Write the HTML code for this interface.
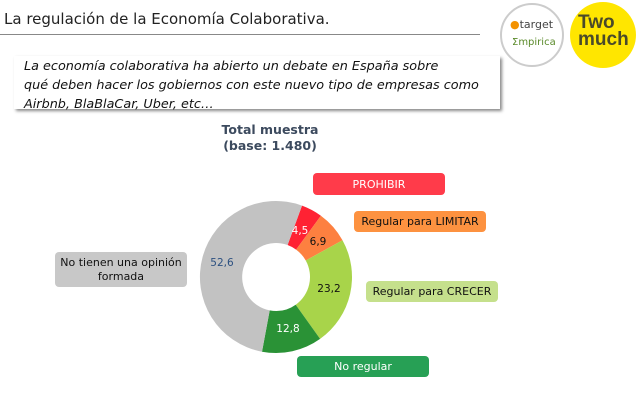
<!DOCTYPE html>
<html><head><meta charset="utf-8"><style>
body{margin:0;width:640px;height:408px;background:#fff;font-family:"DejaVu Sans","Liberation Sans",sans-serif;position:relative;overflow:hidden}
.a{position:absolute}
.box{position:absolute;border-radius:4px;text-align:center;font-size:11px;display:flex;align-items:center;justify-content:center}
</style></head><body>
<div class="a" style="left:4px;top:10px;font-size:15px;color:#222">La regulación de la Economía Colaborativa.</div>
<div class="a" style="left:0;top:34px;width:480px;height:1px;background:#888"></div>
<div class="a" style="left:14px;top:56px;width:486px;height:53px;box-shadow:2px 2px 3px #888;background:#fff"></div>
<div class="a" style="left:24px;top:57px;font-size:12.8px;font-style:italic;line-height:19px;color:#111;white-space:nowrap">La economía colaborativa ha abierto un debate en España sobre<br>qué deben hacer los gobiernos con este nuevo tipo de empresas como<br>Airbnb, BlaBlaCar, Uber, etc…</div>
<div class="a" style="left:500px;top:3px;width:60px;height:60px;border-radius:50%;border:2px solid #ccc;background:#fff"></div>
<div class="a" style="left:510px;top:18px;font-size:11px;color:#444"><span style="color:#f39200">●</span>target</div>
<div class="a" style="left:512px;top:37px;font-size:10px;color:#5a8a2a">Σmpirica</div>
<div class="a" style="left:570px;top:2px;width:66px;height:66px;border-radius:50%;background:#ffe600"></div>
<div class="a" style="left:578px;top:14px;font-size:19px;font-weight:bold;line-height:17px;color:#4a4a2a;font-family:'Liberation Sans',sans-serif">Two<br>much</div>
<div class="a" style="left:200px;top:122px;width:140px;text-align:center;font-size:12.5px;font-weight:bold;color:#3c4a5e;line-height:16px">Total muestra<br>(base: 1.480)</div>
<svg class="a" style="left:0;top:0" width="640" height="408">
<path d="M302.0,205.6 A76,76 0 0 1 320.9,215.7 L296.1,249.6 A34,34 0 0 0 287.6,245.0Z" fill="#ff2233"/>
<path d="M320.9,215.7 A76,76 0 0 1 342.5,240.2 L305.75,260.5 A34,34 0 0 0 296.1,249.6Z" fill="#fd8040"/>
<path d="M342.5,240.2 A76,76 0 0 1 320.1,338.9 L295.7,304.7 A34,34 0 0 0 305.75,260.5Z" fill="#a8d44a"/>
<path d="M320.1,338.9 A76,76 0 0 1 262.0,351.7 L269.7,310.4 A34,34 0 0 0 295.7,304.7Z" fill="#2a9236"/>
<path d="M262.0,351.7 A76,76 0 1 1 302.0,205.6 L287.6,245.0 A34,34 0 1 0 269.7,310.4Z" fill="#c2c2c2"/>
<g font-size="10.5" text-anchor="middle" font-family="DejaVu Sans,sans-serif">
<text x="300" y="234" fill="#fff">4,5</text>
<text x="318" y="245" fill="#111">6,9</text>
<text x="329" y="292" fill="#111">23,2</text>
<text x="288" y="332" fill="#fff">12,8</text>
<text x="222" y="266" fill="#2c5080">52,6</text>
</g>
</svg>
<div class="box" style="left:313px;top:173px;width:132px;height:22px;background:#ff3b4a;color:#fff">PROHIBIR</div>
<div class="box" style="left:354px;top:211px;width:132px;height:21px;background:#fd9240;color:#111">Regular para LIMITAR</div>
<div class="box" style="left:366px;top:281px;width:132px;height:21px;background:#c5e08c;color:#111">Regular para CRECER</div>
<div class="box" style="left:297px;top:356px;width:132px;height:21px;background:#27a055;color:#fff">No regular</div>
<div class="box" style="left:55px;top:252px;width:132px;height:35px;background:#c8c8c8;color:#111;line-height:14px">No tienen una opinión<br>formada</div>
</body></html>
